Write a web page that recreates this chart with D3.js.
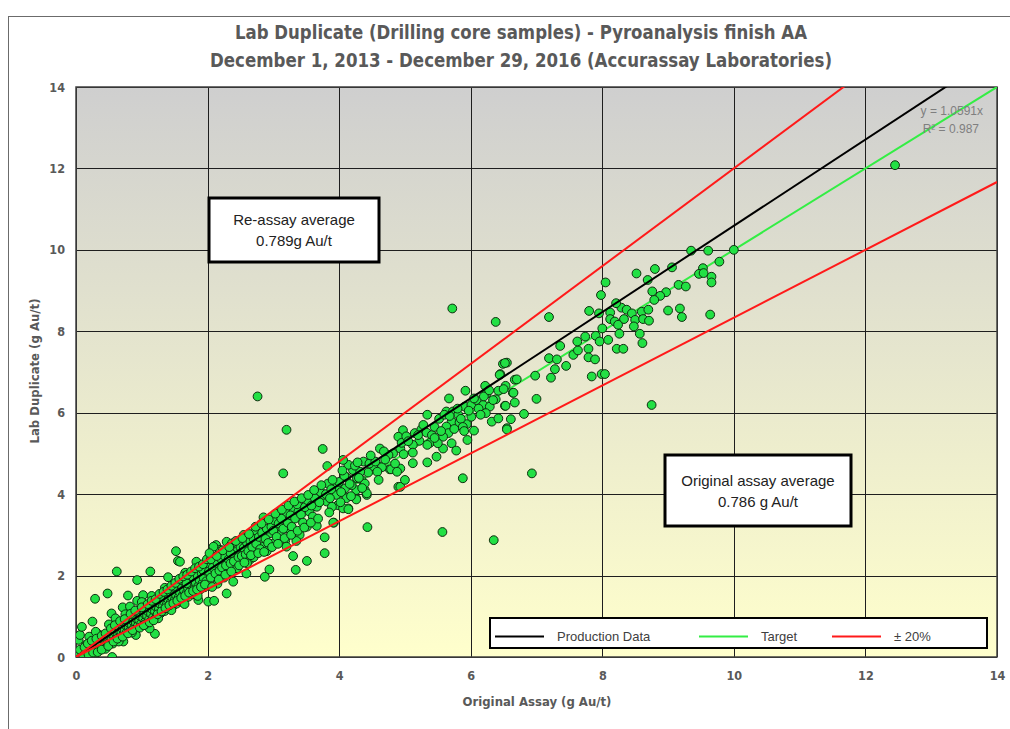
<!DOCTYPE html>
<meta charset="utf-8">
<style>
body { margin: 0; background: #fff; }
svg { display: block; font-family: "Liberation Sans", Arial, sans-serif; }
.tick text { font-family: "Liberation Sans Narrow", "DejaVu Sans Condensed", Arial, sans-serif; font-weight: bold; font-size: 12.5px; fill: #595959; }
.title { font-family: "Liberation Sans Narrow", "DejaVu Sans Condensed", Arial, sans-serif; font-weight: bold; fill: #595959; }
.grid line { stroke: #1e1e1e; stroke-width: 1; }
.dots circle { fill: #22e044; stroke: #0f2e0f; stroke-width: 1; }
.note { font-size: 15px; fill: #222; text-anchor: middle; }
.legend text { font-size: 13px; fill: #404040; }
</style>
<svg width="1010" height="729"></svg>
<script src="https://d3js.org/d3.v7.min.js"></script>
<script>

// original assay vs lab duplicate, g Au/t
var lowGrade = [
  [0.01,0.02],[0.02,0.00],[0.02,0.04],[0.03,0.01],[0.04,0.06],[0.05,0.03],[0.05,0.10],[0.06,0.01],
  [0.07,0.07],[0.08,0.04],[0.08,0.14],[0.09,0.09],[0.10,0.02],[0.11,0.12],[0.12,0.07],[0.12,0.19],
  [0.14,0.10],[0.15,0.15],[0.16,0.05],[0.17,0.21],[0.18,0.12],[0.19,0.17],[0.20,0.26],[0.21,0.09],
  [0.22,0.19],[0.23,0.31],[0.24,0.14],[0.25,0.22],[0.26,0.36],[0.27,0.17],[0.28,0.27],[0.29,0.08],
  [0.30,0.32],[0.31,0.22],[0.32,0.41],[0.33,0.28],[0.34,0.15],[0.35,0.35],[0.36,0.25],[0.37,0.46],
  [0.38,0.31],[0.40,0.38],[0.41,0.22],[0.42,0.50],[0.43,0.35],[0.44,0.44],[0.46,0.30],[0.47,0.55],
  [0.48,0.41],[0.50,0.49],[0.51,0.36],[0.52,0.62],[0.54,0.46],[0.55,0.55],[0.56,0.33],[0.57,0.68],
  [0.58,0.50],[0.60,0.60],[0.61,0.44],[0.62,0.74],[0.64,0.56],[0.65,0.66],[0.66,0.47],[0.68,0.80],
  [0.69,0.61],[0.70,0.71],[0.72,0.55],[0.73,0.86],[0.74,0.66],[0.76,0.77],[0.77,0.60],[0.78,0.92],
  [0.80,0.72],[0.81,0.83],[0.82,0.64],[0.84,0.97],[0.85,0.78],[0.87,0.88],[0.88,0.70],[0.89,1.03],
  [0.91,0.84],[0.92,0.94],[0.94,0.76],[0.95,1.08],[0.96,0.90],[0.98,1.00],[0.99,0.82],[1.01,1.14],
  [1.02,0.95],[1.04,1.06],[1.05,0.86],[1.07,1.20],[1.08,1.01],[1.10,1.11],[1.11,0.92],[1.13,1.27],
  [1.14,1.06],[1.16,1.17],[1.17,0.97],[1.19,1.33],[1.20,1.12],[1.22,1.23],[1.23,1.02],[1.25,1.38],
  [1.26,1.18],[1.28,1.30],[1.29,1.08],[1.31,1.44],[1.32,1.24],[1.34,1.36],[1.35,1.13],[1.37,1.50],
  [1.38,1.29],[1.40,1.42],[1.41,1.19],[1.43,1.57],[1.44,1.34],[1.46,1.47],[1.47,1.25],[1.49,1.63],
  [1.50,1.40],[1.52,1.53],[1.53,1.31],[1.55,1.69],[1.56,1.46],[1.58,1.59],[1.59,1.36],[1.61,1.75],
  [1.62,1.51],[1.64,1.65],[1.65,1.42],[1.67,1.81],[1.68,1.57],[1.70,1.71],[1.71,1.48],[1.73,1.88],
  [1.74,1.62],[1.76,1.77],[1.77,1.54],[1.79,1.94],[1.80,1.68],[1.82,1.83],[1.83,1.60],[1.85,2.00],
  [1.86,1.74],[1.88,1.89],[1.89,1.66],[1.91,2.06],[1.92,1.80],[1.94,1.95],[1.95,1.71],[1.97,2.12],
  [1.98,1.86],
  [0.04,0.42],[0.06,0.54],[0.09,0.74],[0.25,0.87],[0.29,1.43],[0.48,1.56],[0.54,1.07],[0.62,2.10],
  [0.71,1.22],[0.79,1.51],[0.82,1.24],[0.93,1.38],[0.93,1.89],[1.02,1.52],[1.13,2.10],[1.52,2.60],
  [1.55,2.36],[0.55,0.00],[1.20,0.57],[1.12,0.70],[0.91,0.54],[0.72,0.38],[0.41,0.50],[0.36,0.25],
  [0.21,0.34],[1.40,1.96],[1.86,1.40],[1.66,2.07],[1.58,2.34],[1.83,2.34],[1.93,2.14],[1.99,2.30],
  [1.28,1.48],[1.38,1.61],[1.48,1.73],[1.58,1.89],[1.68,1.81],[0.15,0.30],[0.35,0.55],[0.45,0.20],
  [0.65,0.38],[0.85,0.60],[1.05,0.80],[1.25,0.95],[1.45,1.15],[1.65,1.30],[1.85,1.50],[0.75,1.05],
  [1.15,1.50],[1.35,1.70],[0.20,0.50],[0.50,0.80],[0.30,0.62],[0.60,0.95],[1.00,1.35],
  [0.03,0.12],[0.06,0.18],[0.11,0.03],[0.13,0.24],[0.18,0.33],[0.19,0.06],[0.24,0.40],[0.26,0.11],
  [0.31,0.45],[0.33,0.12],[0.39,0.52],[0.39,0.18],[0.45,0.58],[0.49,0.27],[0.53,0.70],[0.57,0.38],
  [0.59,0.78],[0.63,0.45],[0.67,0.88],[0.71,0.50],[0.74,0.93],[0.79,0.58],[0.83,1.06],[0.86,0.66],
  [0.90,1.14],[0.97,0.72],[1.00,1.22],[1.03,0.78],[1.09,1.30],[1.12,0.85],[1.15,1.38],[1.18,0.90],
  [1.21,1.42],[1.24,1.05],[1.27,1.55],[1.30,1.12],[1.33,1.60],[1.36,1.20],[1.39,1.66],[1.42,1.27],
  [1.45,1.75],[1.48,1.32],[1.51,1.82],[1.54,1.38],[1.57,1.92],[1.60,1.45],[1.63,1.98],[1.66,1.50],
  [1.69,2.02],[1.72,1.58],[1.75,2.10],[1.78,1.62],[1.81,2.18],[1.84,1.66],[1.87,2.22],[1.90,1.72],
  [1.93,2.28],[1.96,1.78],[1.99,2.40]
];

var midGrade = [
  [2.01,1.36],[2.10,1.38],[2.29,1.56],[2.39,1.85],[2.13,2.75],[2.19,2.63],[2.29,2.83],[2.76,6.40],
  [3.20,5.58],[3.75,5.11],[3.15,4.51],[3.82,4.69],[3.78,2.94],[3.78,2.55],[3.30,2.48],[3.51,2.36],
  [3.34,2.14],[2.94,2.15],[2.87,1.97],[4.43,3.19],[3.92,3.30],
  [2.85,3.43],[3.05,3.45],[3.20,3.53],[3.30,3.65],[3.38,3.57],[3.55,3.57],[3.66,3.69],[3.81,3.82],
  [3.67,3.92],[3.76,3.98],[3.94,4.02],[3.83,4.26],[3.96,4.20],[3.98,3.73],[4.11,3.92],[4.14,3.65],
  [4.26,3.89],[3.66,3.22],[3.91,3.30],[3.51,3.20],[3.40,3.00],[3.25,3.12],[3.10,3.20],[3.10,3.00],
  [2.95,3.04],[2.80,2.96],[2.72,3.08],[3.00,2.79],[3.18,2.86],[3.20,2.71],[2.85,2.71],[2.69,2.63],
  [2.57,2.55],[2.54,2.87],[2.37,2.79],[2.31,2.63],[2.19,2.59],[2.09,2.71],[2.42,2.38],[2.24,2.34],
  [2.11,2.26],[2.34,2.14],[2.59,2.05],[4.11,4.42],[4.21,4.59],[4.34,4.35],[4.37,4.80],[4.62,4.68],
  [4.77,4.61],[4.90,4.18],[4.39,4.10],[4.26,4.10],[4.42,3.98],
  [4.49,4.84],[4.52,4.68],[4.65,4.66],[4.44,4.53],[4.32,4.55],[4.14,4.72],[4.06,4.84],[4.27,4.39],
  [4.39,4.26],[4.19,4.22],[4.09,4.14],[3.96,4.18],[3.96,3.98],[4.11,3.90],[4.26,3.87],[4.42,4.02],
  [3.89,3.69],[4.06,3.65],[4.14,3.63],[4.97,5.57],[4.90,5.41],[4.82,5.00],[4.62,5.12],[4.75,4.96],
  [4.93,4.63],[4.79,4.61],[4.93,5.12],[4.95,5.26],[4.93,4.18],
  [2.02,2.10],[2.05,1.95],[2.08,2.20],[2.12,2.05],[2.15,2.30],[2.18,2.12],[2.20,2.42],[2.22,2.20],
  [2.26,2.48],[2.28,2.25],[2.32,2.40],[2.35,2.30],[2.38,2.55],[2.40,2.35],[2.45,2.60],[2.47,2.45],
  [2.50,2.70],[2.52,2.48],[2.55,2.68],[2.58,2.52],[2.60,2.80],[2.62,2.60],[2.65,2.85],[2.68,2.70],
  [2.70,2.90],[2.74,2.78],[2.78,2.95],[2.80,2.65],[2.83,3.05],[2.88,2.90],[2.90,3.15],[2.92,2.80],
  [2.97,3.20],[3.00,3.10],[3.02,3.35],[3.05,2.95],[3.08,3.28],[3.12,3.40],[3.15,3.15],[3.22,3.30],
  [3.26,3.48],[3.28,3.20],[3.33,3.40],[3.36,3.75],[3.42,3.50],[3.45,3.30],[3.48,3.68],[3.52,3.85],
  [3.58,3.72],[3.60,3.45],[3.63,3.90],[3.70,3.80],[3.72,4.05],[3.80,4.00],[3.86,3.90],[3.88,4.12],
  [4.00,4.30],[4.03,4.05],[4.08,4.45],[4.16,4.25],[4.24,4.70],[4.30,4.40],[4.46,4.75],[4.55,4.80],
  [4.58,4.55],[4.70,4.85],[4.85,4.75],[2.45,2.18],[2.65,2.40],[2.25,1.95],[2.70,2.45],[2.90,2.60],
  [3.35,2.85],[2.55,3.00],[2.35,2.55],[2.05,2.40],[2.15,1.80],[2.60,2.30],
  [2.03,2.55],[2.07,1.72],[2.14,2.48],[2.17,1.90],[2.23,2.62],[2.27,2.02],[2.33,2.70],[2.36,2.10],
  [2.43,2.85],[2.48,2.25],[2.53,2.92],[2.56,2.32],[2.63,3.02],[2.66,2.50],[2.73,3.20],[2.77,2.55],
  [2.82,3.28],[2.86,2.58],[2.93,3.38],[2.98,2.70],[3.03,3.52],[3.07,2.78],[3.13,3.62],[3.17,2.92],
  [3.23,3.72],[3.27,3.00],[3.32,3.82],[3.37,3.10],[3.43,3.90],[3.47,3.18],[3.53,3.98],[3.57,3.30],
  [3.62,4.10],[3.68,3.40],[3.73,4.22],[3.85,3.55],[3.90,4.35],[4.02,3.80],[4.05,4.58],[4.18,3.95],
  [4.28,4.78],[4.35,4.15],[4.48,4.95],[4.60,4.35],[4.68,5.05],[4.88,4.55],[4.98,4.98]
];

var highGrade = [
  [5.72,8.56],[6.38,8.23],[5.34,5.95],[5.63,6.03],[5.73,6.03],[5.81,5.95],[5.91,6.15],[6.01,6.19],
  [5.71,5.78],[5.83,5.76],[5.94,5.72],[6.01,5.90],[6.05,5.56],[5.63,5.66],[5.66,5.50],[5.58,5.41],
  [5.95,5.33],[5.71,5.25],[5.58,5.12],[5.78,5.07],[5.88,4.39],[5.02,5.42],[5.15,5.50],[5.25,5.59],
  [5.33,5.51],[5.41,5.45],[5.38,5.26],[5.34,5.21],[5.22,5.31],[5.12,5.21],[5.12,5.02],[5.12,4.76],
  [5.48,4.92],[5.34,4.78],[5.00,4.35],[5.57,3.07],[6.35,2.87],[5.92,6.54],[5.67,6.35],[6.09,6.31],
  [6.19,6.19],[6.29,6.15],[6.23,5.99],[6.32,5.78],[6.42,5.86],[6.55,5.62],[6.49,7.20],[6.55,7.23],
  [6.45,6.95],[6.67,6.81],[6.53,6.66],[6.42,6.54],[6.64,6.49],[6.24,6.47],[6.22,6.66],[6.38,6.33],
  [6.52,6.17],[6.34,6.31],[6.44,6.93],[6.52,7.22],[6.50,6.58],[6.65,6.49],[6.70,6.82],[6.67,6.25],
  [6.53,6.17],[6.61,5.84],[6.81,5.97],[6.55,5.59],[6.93,4.51],[6.98,6.91],[7.22,6.86],[7.00,6.34],
  [7.19,8.35],[7.36,7.64],[7.56,7.42],[7.19,7.34],[7.31,7.31],[7.45,7.15],[7.28,7.07],[7.63,7.53],
  [7.79,7.57],[7.62,7.75],[7.74,7.87],[7.79,7.36],[7.89,7.31],[7.84,6.89],[7.99,6.95],[8.04,6.95],
  [8.75,6.19],[7.80,8.50],[7.95,8.44],[8.12,8.46],[8.29,8.58],[8.37,8.53],[8.45,8.44],[8.60,8.48],
  [8.70,8.53],[9.00,8.51],[9.18,8.56],[9.21,8.35],[9.64,8.41],[8.12,8.30],[8.19,8.24],[8.33,8.30],
  [8.50,8.28],[8.62,8.30],[8.71,8.26],[8.24,8.16],[8.48,8.12],[8.00,8.07],[7.90,7.89],[7.96,7.75],
  [8.09,7.79],[8.26,7.94],[8.57,7.94],[8.61,7.71],[8.22,7.57],[8.32,7.57],[8.05,9.20],[7.98,8.89],
  [8.21,8.69],[8.52,9.42],[8.69,9.26],[8.80,9.53],[9.06,9.57],[8.76,8.98],[8.97,8.96],[8.88,8.87],
  [8.79,8.77],[9.16,9.14],[9.27,9.10],[9.35,9.98],[9.61,9.98],[10.00,10.00],[9.78,9.71],[9.53,9.55],
  [9.47,9.41],[9.54,9.43],[9.66,9.34],[9.66,9.20],[12.45,12.08],
  [5.05,5.30],[5.20,5.45],[5.28,5.70],[5.45,5.65],[5.52,5.85],[5.55,5.55],[5.60,5.95],[5.68,5.92],
  [5.75,5.60],[5.80,6.10],[5.85,5.85],[5.88,5.65],[5.97,6.05],[6.05,6.35],[6.12,6.10],[6.15,5.95],
  [6.20,6.40],[6.28,6.55],[5.90,5.55],[5.50,5.25],[5.45,5.38]
];

var axisTicks = [0, 2, 4, 6, 8, 10, 12, 14];
var trendSlope = 1.0591;
var trendR2 = 0.987;
var band = 0.20;
var reassayAverage = "0.789g Au/t";
var originalAverage = "0.786 g Au/t";
var titleLines = [
  "Lab Duplicate (Drilling core samples) - Pyroanalysis finish AA",
  "December 1, 2013 - December 29, 2016 (Accurassay Laboratories)"
];

var svg = d3.select("svg");
var x = d3.scaleLinear().domain([0, 14]).range([76, 997]);
var y = d3.scaleLinear().domain([0, 14]).range([657, 87]);

// frame of the whole chart
svg.append("rect")
  .attr("x", 8.5).attr("y", 16.5).attr("width", 1010).attr("height", 720)
  .attr("fill", "#fff").attr("stroke", "#6b6b6b");

var defs = svg.append("defs");
var grad = defs.append("linearGradient")
  .attr("id", "bg").attr("x1", 0).attr("y1", 0).attr("x2", 0).attr("y2", 1);
grad.append("stop").attr("offset", "0%").attr("stop-color", "#cfcfcf");
grad.append("stop").attr("offset", "100%").attr("stop-color", "#ffffcc");

defs.append("clipPath").attr("id", "plot")
  .append("rect").attr("x", 76).attr("y", 87).attr("width", 921).attr("height", 570);

svg.append("rect")
  .attr("x", 76).attr("y", 87).attr("width", 921).attr("height", 570)
  .attr("fill", "url(#bg)");

// grid
var grid = svg.append("g").attr("class", "grid");
grid.selectAll(".gx").data(axisTicks).enter().append("line")
  .attr("x1", function(d) { return Math.round(x(d)) + 0.5; })
  .attr("x2", function(d) { return Math.round(x(d)) + 0.5; })
  .attr("y1", y(0)).attr("y2", y(14));
grid.selectAll(".gy").data(axisTicks).enter().append("line")
  .attr("y1", function(d) { return Math.round(y(d)) + 0.5; })
  .attr("y2", function(d) { return Math.round(y(d)) + 0.5; })
  .attr("x1", x(0)).attr("x2", x(14));

svg.append("rect")
  .attr("x", 76).attr("y", 87).attr("width", 921).attr("height", 570)
  .attr("fill", "none").attr("stroke", "#404040").attr("stroke-width", 1.5);

// axes
var xAxis = svg.append("g").attr("transform", "translate(0,657)")
  .call(d3.axisBottom(x).tickValues(axisTicks).tickSize(0).tickPadding(14));
var yAxis = svg.append("g").attr("transform", "translate(76,0)")
  .call(d3.axisLeft(y).tickValues(axisTicks).tickSize(0).tickPadding(11));
xAxis.select(".domain").remove();
yAxis.select(".domain").remove();

var line = d3.line().x(function(d) { return x(d[0]); }).y(function(d) { return y(d[1]); });
var plot = svg.append("g").attr("clip-path", "url(#plot)");

// target y = x, under the points
plot.append("path")
  .attr("d", line([[0, 0], [14, 14]]))
  .attr("fill", "none").attr("stroke", "#33ee44").attr("stroke-width", 2);

var samples = lowGrade.concat(midGrade, highGrade);
plot.append("g").attr("class", "dots")
  .selectAll("circle").data(samples).enter().append("circle")
  .attr("cx", function(d) { return x(d[0]); })
  .attr("cy", function(d) { return y(d[1]); })
  .attr("r", 4.4);

plot.append("path")
  .attr("d", line([[0, 0], [14, 14 * trendSlope]]))
  .attr("fill", "none").attr("stroke", "#000").attr("stroke-width", 2);
plot.append("path")
  .attr("d", line([[0, 0], [14, 14 * (1 + band)]]))
  .attr("fill", "none").attr("stroke", "#ff1a1a").attr("stroke-width", 2);
plot.append("path")
  .attr("d", line([[0, 0], [14, 14 / (1 + band)]]))
  .attr("fill", "none").attr("stroke", "#ff1a1a").attr("stroke-width", 2);

// trendline label
svg.append("text").attr("x", 983).attr("y", 115).attr("text-anchor", "end")
  .attr("font-size", 12).attr("fill", "#7f7f7f")
  .text("y = " + trendSlope + "x");
svg.append("text").attr("x", 979).attr("y", 133).attr("text-anchor", "end")
  .attr("font-size", 12).attr("fill", "#7f7f7f")
  .text("R\u00b2 = " + trendR2);

// titles
svg.selectAll(".title").data(titleLines).enter().append("text")
  .attr("class", "title")
  .attr("x", 521).attr("y", function(d, i) { return 39 + i * 28; })
  .attr("text-anchor", "middle").attr("font-size", 19)
  .attr("textLength", function(d, i) { return i ? 622 : 572; })
  .attr("lengthAdjust", "spacingAndGlyphs")
  .text(function(d) { return d; });

svg.append("text").attr("class", "title")
  .attr("x", 537).attr("y", 706).attr("text-anchor", "middle").attr("font-size", 13)
  .text("Original Assay (g Au/t)");
svg.append("text").attr("class", "title")
  .attr("transform", "translate(39,371) rotate(-90)").attr("text-anchor", "middle").attr("font-size", 13)
  .text("Lab Duplicate (g Au/t)");

// note boxes
function noteBox(x0, y0, w, h, lines) {
  var g = svg.append("g");
  g.append("rect").attr("x", x0).attr("y", y0).attr("width", w).attr("height", h)
    .attr("fill", "#fff").attr("stroke", "#000").attr("stroke-width", 3);
  g.selectAll("text").data(lines).enter().append("text")
    .attr("class", "note")
    .attr("x", x0 + w / 2)
    .attr("y", function(d, i) { return y0 + h / 2 - 5 + i * 21; })
    .text(function(d) { return d; });
}
noteBox(209, 198, 170, 64, ["Re-assay average", reassayAverage]);
noteBox(665, 455, 186, 71, ["Original assay average", originalAverage]);

// legend
var legend = svg.append("g").attr("class", "legend");
legend.append("rect").attr("x", 490).attr("y", 618).attr("width", 497).attr("height", 30)
  .attr("fill", "#fff").attr("stroke", "#000").attr("stroke-width", 2);
var legendItems = [
  { label: "Production Data", color: "#000", x: 495 },
  { label: "Target", color: "#33ee44", x: 699 },
  { label: "\u00b1 20%", color: "#ff1a1a", x: 832 }
];
legendItems.forEach(function(d) {
  legend.append("line").attr("x1", d.x).attr("x2", d.x + 49).attr("y1", 636.5).attr("y2", 636.5)
    .attr("stroke", d.color).attr("stroke-width", 2);
  legend.append("text").attr("x", d.x + 62).attr("y", 641).text(d.label);
});

</script>
